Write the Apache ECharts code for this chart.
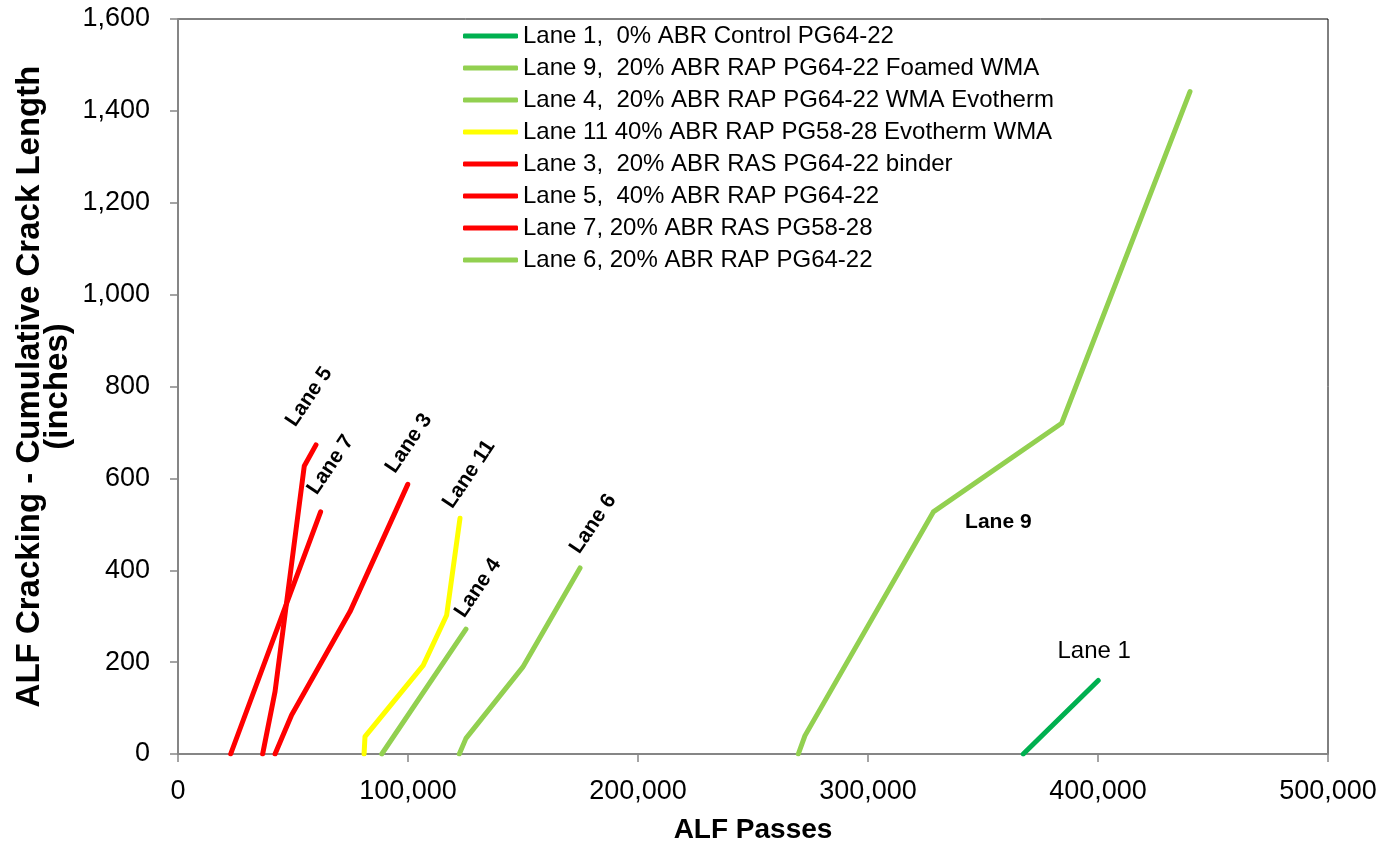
<!DOCTYPE html>
<html>
<head>
<meta charset="utf-8">
<title>ALF Cracking - Cumulative Crack Length</title>
<script src="https://cdn.jsdelivr.net/npm/echarts@6/dist/echarts.min.js"></script>
<style>
  html, body { margin: 0; padding: 0; background: #ffffff; }
  #chart { width: 1387px; height: 843px; }
</style>
</head>
<body>
<div id="chart"></div>
<script>
// ALF passes (x) and cumulative crack length in inches (y) for each lane
const lane1X  = [367500, 400100];
const lane1Y  = [0, 160];
const lane9X  = [269700, 272600, 328400, 384200, 440000];
const lane9Y  = [0, 40, 527, 720, 1442];
const lane4X  = [88600, 125200];
const lane4Y  = [0, 272];
const lane11X = [80900, 81300, 106600, 116800, 122600];
const lane11Y = [0, 38, 193, 302, 513];
const lane3X  = [42200, 49400, 74800, 99900];
const lane3Y  = [0, 85, 310, 587];
const lane5X  = [36800, 42200, 54900, 60000];
const lane5Y  = [0, 136, 627, 673];
const lane7X  = [22900, 62000];
const lane7Y  = [0, 527];
const lane6X  = [122300, 125200, 149900, 174800];
const lane6Y  = [0, 34, 189, 405];

const seriesNames = [
  'Lane 1,  0% ABR Control PG64-22',
  'Lane 9,  20% ABR RAP PG64-22 Foamed WMA',
  'Lane 4,  20% ABR RAP PG64-22 WMA Evotherm',
  'Lane 11 40% ABR RAP PG58-28 Evotherm WMA',
  'Lane 3,  20% ABR RAS PG64-22 binder',
  'Lane 5,  40% ABR RAP PG64-22',
  'Lane 7, 20% ABR RAS PG58-28',
  'Lane 6, 20% ABR RAP PG64-22'
];

const xTicks = [0, 100000, 200000, 300000, 400000, 500000];
const yTicks = [0, 200, 400, 600, 800, 1000, 1200, 1400, 1600];

const DARK_GREEN = '#00B050';
const LIGHT_GREEN = '#92D050';
const YELLOW = '#FFFF00';
const RED = '#FF0000';

const FONT = "'Liberation Sans', Arial, sans-serif";

function pairs(xs, ys) {
  return xs.map((x, i) => [x, ys[i]]);
}
function last(xs, ys) {
  return [xs[xs.length - 1], ys[ys.length - 1]];
}
// Text-label offset: wanted screen shift (dx, dy) of the label centre,
// expressed in the rotated label frame.
function tagOffset(dx, dy, deg) {
  const t = deg * Math.PI / 180, c = Math.cos(t), s = Math.sin(t);
  return [dx * c - dy * s, dx * s + dy * c];
}

function laneSeries(name, xs, ys, color) {
  return {
    name: name,
    type: 'line',
    data: pairs(xs, ys),
    symbol: 'none',
    showSymbol: false,
    lineStyle: { color: color, width: 5, cap: 'round', join: 'round' },
    itemStyle: { color: color },
    z: 3
  };
}

const ROT = 56;
function slantTag(text, point, dx, dy) {
  return {
    value: point,
    label: {
      show: true,
      formatter: text,
      position: 'inside',
      rotate: ROT,
      align: 'center',
      verticalAlign: 'middle',
      offset: tagOffset(dx, dy, ROT),
      fontFamily: FONT,
      fontWeight: 'bold',
      fontSize: 21,
      color: '#000000',
      opacity: 1
    }
  };
}

const tagData = [
  slantTag('Lane 5', last(lane5X, lane5Y), -7, -48),
  slantTag('Lane 7', last(lane7X, lane7Y), 10, -47),
  slantTag('Lane 3', last(lane3X, lane3Y), 1, -41),
  slantTag('Lane 11', last(lane11X, lane11Y), 9, -44),
  slantTag('Lane 4', last(lane4X, lane4Y), 12, -41),
  slantTag('Lane 6', last(lane6X, lane6Y), 13, -44),
  {
    value: [lane9X[2], lane9Y[2]],
    label: {
      show: true, formatter: 'Lane 9', position: 'inside',
      align: 'center', verticalAlign: 'middle', offset: [65, 10],
      fontFamily: FONT, fontWeight: 'bold', fontSize: 21, color: '#000000', opacity: 1
    }
  },
  {
    value: last(lane1X, lane1Y),
    label: {
      show: true, formatter: 'Lane 1', position: 'inside',
      align: 'center', verticalAlign: 'middle', offset: [-4, -29],
      fontFamily: FONT, fontSize: 24, color: '#000000', opacity: 1
    }
  }
];

const fmt = v => Number(v).toLocaleString('en-US');

const chart = echarts.init(document.getElementById('chart'), null, { renderer: 'canvas' });

chart.setOption({
  animation: false,
  backgroundColor: '#ffffff',
  grid: {
    left: 178, right: 59, top: 19, bottom: 89,
    outerBoundsMode: 'none',
    containLabel: false,
    show: true, borderColor: '#000000', borderWidth: 1,
    backgroundColor: 'transparent'
  },
  legend: {
    data: seriesNames,
    orient: 'vertical',
    left: 458,
    top: 19,
    icon: 'roundRect',
    itemWidth: 55,
    itemHeight: 5,
    itemGap: 8,
    selectedMode: false,
    textStyle: { fontFamily: FONT, fontSize: 24, lineHeight: 24, color: '#000000' }
  },
  xAxis: {
    type: 'value',
    min: xTicks[0],
    max: xTicks[xTicks.length - 1],
    interval: xTicks[1] - xTicks[0],
    name: 'ALF Passes',
    nameLocation: 'middle',
    nameGap: 62,
    nameMoveOverlap: false,
    nameTextStyle: { fontFamily: FONT, fontWeight: 'bold', fontSize: 28, color: '#000000' },
    axisLine: { show: true, onZero: false, lineStyle: { color: '#868686', width: 2 } },
    axisTick: { show: true, inside: false, length: 8, lineStyle: { color: '#868686', width: 1.5 } },
    axisLabel: { fontFamily: FONT, fontSize: 27, color: '#000000', margin: 24, formatter: fmt },
    splitLine: { show: false }
  },
  yAxis: {
    type: 'value',
    min: yTicks[0],
    max: yTicks[yTicks.length - 1],
    interval: yTicks[1] - yTicks[0],
    name: 'ALF Cracking - Cumulative Crack Length\n(inches)',
    nameLocation: 'middle',
    nameGap: 106,
    nameMoveOverlap: false,
    nameRotate: 90,
    nameTextStyle: { fontFamily: FONT, fontWeight: 'bold', fontSize: 33, lineHeight: 28, color: '#000000', align: 'center' },
    axisLine: { show: true, onZero: false, lineStyle: { color: '#868686', width: 2 } },
    axisTick: { show: true, inside: false, length: 8, lineStyle: { color: '#868686', width: 1.5 } },
    axisLabel: { fontFamily: FONT, fontSize: 27, color: '#000000', margin: 28, formatter: fmt },
    splitLine: { show: false }
  },
  series: [
    laneSeries(seriesNames[0], lane1X, lane1Y, DARK_GREEN),
    laneSeries(seriesNames[1], lane9X, lane9Y, LIGHT_GREEN),
    laneSeries(seriesNames[2], lane4X, lane4Y, LIGHT_GREEN),
    laneSeries(seriesNames[3], lane11X, lane11Y, YELLOW),
    laneSeries(seriesNames[4], lane3X, lane3Y, RED),
    laneSeries(seriesNames[5], lane5X, lane5Y, RED),
    laneSeries(seriesNames[6], lane7X, lane7Y, RED),
    laneSeries(seriesNames[7], lane6X, lane6Y, LIGHT_GREEN),
    {
      name: 'laneTags',
      type: 'scatter',
      data: tagData,
      symbol: 'circle',
      symbolSize: 2,
      itemStyle: { color: 'rgba(0,0,0,0)', opacity: 1 },
      silent: true,
      z: 5
    }
  ]
});
</script>
</body>
</html>
